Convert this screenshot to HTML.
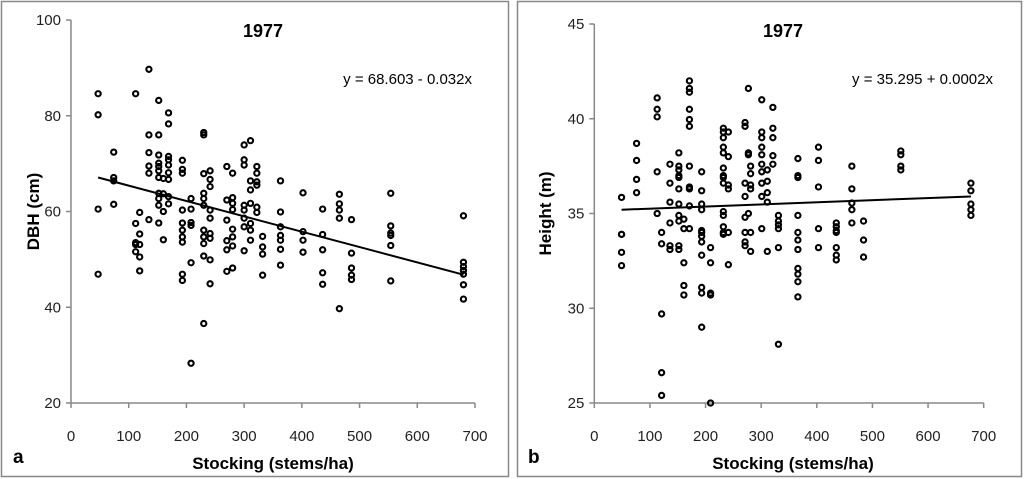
<!DOCTYPE html>
<html><head><meta charset="utf-8"><style>
html,body{margin:0;padding:0;background:#fff;}
svg{display:block;font-family:"Liberation Sans",Arial,sans-serif;}
</style></head><body>
<svg id="chart" width="1024" height="479" viewBox="0 0 1024 479">
<rect x="1.5" y="1.5" width="507" height="475" fill="#fff" stroke="#888" stroke-width="1.5"/>
<rect x="517.5" y="1.5" width="504" height="475" fill="#fff" stroke="#888" stroke-width="1.5"/>
<g id="pa"></g>
<g id="pb"></g>
</svg>
<script>
// Panel a data (DBH vs stocking)
const aX = [47,47,47,47, 74,74,74,74, 112,112,112,112,112, 119,119,119,119,119, 135,135,135,135,135,135,
152,152,152,152,152,152,152,152,152,152,152, 160,160,160,160, 169,169,169,169,169,169,169,169,169,
193,193,193,193,193,193,193,193,193,193, 208,208,208,208,208,208, 230,230,230,230,230,230,230,230,230,230,230,
241,241,241,241,241,241,241,241,241, 270,270,270,270,270,270, 280,280,280,280,280,280,280,280,
300,300,300,300,300,300,300,300, 311,311,311,311,311,311,311, 322,322,322,322,322,322, 332,332,332,332,
363,363,363,363,363,363,363, 402,402,402,402, 436,436,436,436,436, 465,465,465,465,465, 486,486,486,486,486,
554,554,554,554,554,554, 680,680,680,680,680,680,680];
const aY = [84.6,80.2,60.5,46.9, 72.4,67.1,66.4,61.5, 84.6,57.5,53.5,53.1,51.6, 59.8,55.3,53.1,50.5,47.6, 89.7,76.0,72.3,69.5,68.0,58.3,
83.2,76.0,71.8,70.1,69.4,68.5,67.1,63.8,62.7,61.3,57.6, 66.9,63.7,60.0,54.1, 80.6,78.3,71.5,70.8,69.7,68.1,66.7,63.1,61.6,
70.7,68.8,68.0,60.3,57.6,56.1,54.7,53.6,46.9,45.6, 62.7,60.5,57.7,57.1,49.3,28.3, 76.5,76.0,67.9,63.8,62.7,61.3,56.1,54.7,53.3,50.7,36.6,
68.5,66.7,65.2,60.3,58.6,55.4,54.4,49.9,44.9, 69.4,62.4,58.2,53.9,52.0,47.5, 68.0,62.9,61.7,60.4,56.3,54.7,52.8,48.2,
73.9,70.8,69.7,61.3,60.3,58.6,56.8,51.8, 74.8,66.4,64.5,61.7,57.5,56.1,54.0, 69.4,68.0,66.2,65.5,60.9,59.8, 54.8,52.6,51.1,46.7,
66.4,59.9,56.8,55.0,54.0,52.1,48.8, 63.9,55.8,54.0,51.5, 60.5,55.2,52.0,47.2,44.8, 63.6,61.6,60.3,58.6,39.7, 58.3,51.3,48.2,46.7,45.8,
63.8,57.0,55.5,55.0,52.9,45.5, 59.1,49.4,48.5,47.7,46.9,44.7,41.7];
const aTrendX = [47,680];
const aTrendY = [67.1,46.8];
const aXTicks = [0,100,200,300,400,500,600,700];
const aYTicks = [20,40,60,80,100];

// Panel b data (Height vs stocking)
const bX = [49,49,49,49,49, 76,76,76,76, 113,113,113,113,113, 121,121,121,121,121, 136,136,136,136,136,136,
152,152,152,152,152,152,152,152,152,152,152, 161,161,161,161,161, 171,171,171,171,171,171,171,171,171,171,171,
193,193,193,193,193,193,193,193,193,193,193,193, 209,209,209,209,209,
232,232,232,232,232,232,232,232,232,232,232,232,232,232, 241,241,241,241,241,241, 271,271,271,271,271,271,271,271,
277,277,277,277, 281,281,281,281,281,281, 301,301,301,301,301,301,301,301,301,301, 311,311,311,311,311,
321,321,321,321,321, 331,331,331,331,331,331, 366,366,366,366,366,366,366,366,366,366,366, 403,403,403,403,403,
435,435,435,435,435,435,435, 463,463,463,463,463, 484,484,484, 551,551,551,551, 677,677,677,677,677];
const bY = [35.85,33.9,33.9,32.95,32.25, 38.7,37.8,36.8,36.1, 41.1,40.5,40.1,37.2,35.0, 34.0,33.4,29.7,26.6,25.4, 37.6,36.6,35.6,34.5,33.3,33.1,
38.2,37.5,37.3,37.0,36.9,36.3,35.5,34.9,34.6,33.3,33.1, 34.7,34.2,32.4,31.2,30.7, 42.0,41.6,41.4,40.5,39.96,39.6,37.5,36.4,36.3,35.4,34.2,
37.2,36.2,35.5,35.2,34.1,34.0,33.8,33.5,32.8,31.1,30.8,29.0, 33.2,32.4,30.8,30.7,25.0,
39.5,39.3,39.0,38.5,38.2,37.4,37.0,36.9,36.6,35.1,34.9,34.3,34.0,33.9, 39.3,38.0,36.5,36.3,34.0,32.3, 39.8,39.6,36.6,35.9,34.8,34.0,33.5,33.3,
41.6,38.2,38.1,35.0, 37.5,37.1,36.5,36.3,34.0,33.0, 41.0,39.3,39.0,38.5,38.1,37.6,37.2,36.6,35.9,34.2, 37.3,36.7,36.1,35.6,33.0,
40.6,39.5,39.0,38.05,37.6, 34.9,34.6,34.4,34.2,33.2,28.1, 37.9,37.0,36.9,34.9,34.0,33.6,33.1,32.1,31.8,31.4,30.6, 38.5,37.8,36.4,34.2,33.2,
34.5,34.3,34.1,34.0,33.2,32.8,32.55, 37.5,36.3,35.55,35.2,34.5, 34.6,33.6,32.7, 38.3,38.1,37.5,37.3, 36.6,36.2,35.5,35.2,34.9];
const bTrendX = [49,677];
const bTrendY = [35.2,35.9];
const bXTicks = [0,100,200,300,400,500,600,700];
const bYTicks = [25,30,35,40,45];

const NS = 'http://www.w3.org/2000/svg';
function mk(parent, tag, attrs, text){
  const e = document.createElementNS(NS, tag);
  for (const k in attrs) e.setAttribute(k, attrs[k]);
  if (text !== undefined) e.textContent = text;
  parent.appendChild(e);
  return e;
}
function panel(g, cfg){
  const sx = v => cfg.x0 + (v - cfg.xmin) / (cfg.xmax - cfg.xmin) * (cfg.x1 - cfg.x0);
  const sy = v => cfg.y0 - (v - cfg.ymin) / (cfg.ymax - cfg.ymin) * (cfg.y0 - cfg.y1);
  const ax = mk(g, 'line', {x1: cfg.x0, y1: cfg.y0, x2: cfg.x1, y2: cfg.y0, stroke: '#888', 'stroke-width': 1.5});
  
  
  const ay = mk(g, 'line', {x1: cfg.x0, y1: cfg.y0, x2: cfg.x0, y2: cfg.y1, stroke: '#888', 'stroke-width': 1.5});
  
  
  cfg.xt.forEach(v => {
    const t = mk(g, 'line', {x1: sx(v), y1: cfg.y0, x2: sx(v), y2: cfg.y0 + 5, stroke: '#888', 'stroke-width': 1.5});
    
    
    const l = mk(g, 'text', {x: sx(v), y: cfg.y0 + 38, 'text-anchor': 'middle', 'font-size': 15, fill: '#222'}, v);
    
    
  });
  cfg.yt.forEach(v => {
    const t = mk(g, 'line', {x1: cfg.x0 - 5, y1: sy(v), x2: cfg.x0, y2: sy(v), stroke: '#888', 'stroke-width': 1.5});
    
    
    const l = mk(g, 'text', {x: cfg.x0 - 10, y: sy(v) + 5, 'text-anchor': 'end', 'font-size': 15, fill: '#222'}, v);
    
    
  });
  cfg.px.forEach((v, i) => {
    const c = mk(g, 'circle', {cx: sx(v), cy: sy(cfg.py[i]), r: 2.6, fill: 'none', stroke: '#000', 'stroke-width': 2.1});
    
    
  });
  const tl = mk(g, 'line', {x1: sx(cfg.tx[0]), y1: sy(cfg.ty[0]), x2: sx(cfg.tx[1]), y2: sy(cfg.ty[1]), stroke: '#000', 'stroke-width': 2});
  
  
  const ti = mk(g, 'text', {x: cfg.cx, y: 37, 'text-anchor': 'middle', 'font-size': 18, 'font-weight': 'bold'}, '1977');
  
  
  const eq = mk(g, 'text', {x: cfg.eqx, y: 84, 'text-anchor': 'end', 'font-size': 15}, cfg.eq);
  
  
  const xt = mk(g, 'text', {x: cfg.cx + 10, y: 469, 'text-anchor': 'middle', 'font-size': 17, 'font-weight': 'bold'}, 'Stocking (stems/ha)');
  
  
  const yt = mk(g, 'text', {x: 0, y: 0, 'text-anchor': 'middle', 'font-size': 17, 'font-weight': 'bold', transform: 'translate(' + cfg.ytx + ',' + ((cfg.y0 + cfg.y1) / 2) + ') rotate(-90)'}, cfg.ylab);
  
  
  const pl = mk(g, 'text', {x: cfg.lx, y: 463, 'font-size': 19, 'font-weight': 'bold'}, cfg.letter);
  
  
}
panel(document.getElementById('pa'), {x0: 71, x1: 475, y0: 403, y1: 20, xmin: 0, xmax: 700, ymin: 20, ymax: 100,
  xt: aXTicks, yt: aYTicks, px: aX, py: aY, tx: aTrendX, ty: aTrendY, cx: 263, eqx: 472, eq: 'y = 68.603 - 0.032x',
  ytx: 39, ylab: 'DBH (cm)', lx: 13, letter: 'a'});
panel(document.getElementById('pb'), {x0: 594.3, x1: 983.7, y0: 403, y1: 24, xmin: 0, xmax: 700, ymin: 25, ymax: 45,
  xt: bXTicks, yt: bYTicks, px: bX, py: bY, tx: bTrendX, ty: bTrendY, cx: 783, eqx: 993, eq: 'y = 35.295 + 0.0002x',
  ytx: 551, ylab: 'Height (m)', lx: 528, letter: 'b'});
</script>
</body></html>
